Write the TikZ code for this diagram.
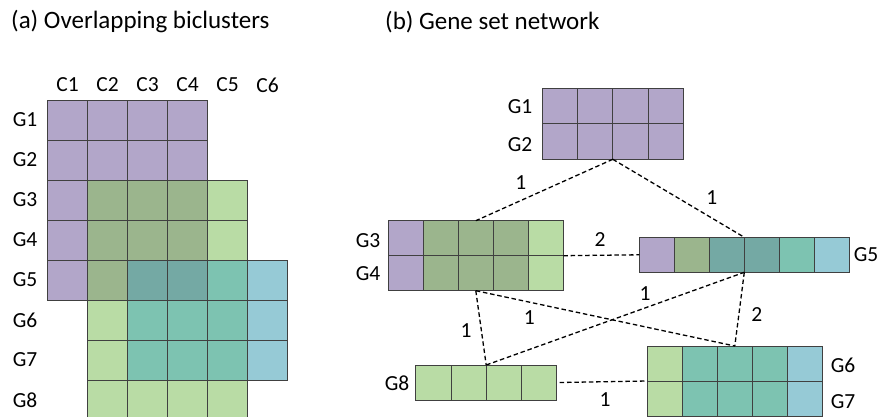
\documentclass[tikz,border=0pt]{standalone}
\usepackage{fontspec}
\setmainfont{Carlito}
\usetikzlibrary{calc}
\definecolor{pu}{HTML}{B2A6C9}
\definecolor{dg}{HTML}{9BB58D}
\definecolor{lg}{HTML}{B9DCA5}
\definecolor{te}{HTML}{7DC3B1}
\definecolor{dt}{HTML}{74A9A4}
\definecolor{bl}{HTML}{96CAD6}
\newcommand\cellsrow[5]{\foreach \cc [count=\ii from 0] in {#5} {\filldraw[cellst, fill=\cc] ({#1+\ii*#3},{#2}) rectangle +({#3},{#4});}}
\tikzset{
  cellst/.style={draw=black!75, line width=0.8pt},
  blk/.style={draw=none, inner sep=0pt, outer sep=0pt},
  lbl/.style={inner sep=0pt, font=\fontsize{21.5}{25}\selectfont},
  ttl/.style={inner sep=0pt, font=\fontsize{25}{30}\selectfont},
  edge/.style={line width=1.3pt, dash pattern=on 4.5pt off 2.8pt},
}
\begin{document}
\begin{tikzpicture}[x=1pt,y=-1pt]
\useasboundingbox (0,0) rectangle (879,417);
% titles
\node[ttl, anchor=west] (ta) at (11,22) {(a) Overlapping biclusters};
\node[ttl, anchor=west] (tb) at (385,22) {(b) Gene set network};
% left grid
\foreach \c [count=\i] in {1,...,6} \node[lbl] (c\c) at ({47.5+40*\i-20},85) {C\c};
\foreach \g [count=\i] in {1,...,8} \node[lbl] (g\g) at (25,{100+40*\i-20}) {G\g};
\cellsrow{47.5}{100}{40}{40}{pu,pu,pu,pu}
\cellsrow{47.5}{140}{40}{40}{pu,pu,pu,pu}
\cellsrow{47.5}{180}{40}{40}{pu,dg,dg,dg,lg}
\cellsrow{47.5}{220}{40}{40}{pu,dg,dg,dg,lg}
\cellsrow{47.5}{260}{40}{40}{pu,dg,dt,dt,te,bl}
\cellsrow{87.5}{300}{40}{40}{lg,te,te,te,bl}
\cellsrow{87.5}{340}{40}{40}{lg,te,te,te,bl}
\cellsrow{87.5}{380}{40}{40}{lg,lg,lg,lg}
% right network blocks
\node[blk, minimum width=141pt, minimum height=71pt] (b12) at (612.8,123.8) {};
\cellsrow{542.3}{88.3}{35.25}{35.5}{pu,pu,pu,pu}
\cellsrow{542.3}{123.8}{35.25}{35.5}{pu,pu,pu,pu}
\node[lbl] (r1) at (520,107) {G1};
\node[lbl] (r2) at (520,145) {G2};

\node[blk, minimum width=175pt, minimum height=70pt] (b34) at (475.8,255.7) {};
\cellsrow{388.3}{220.7}{35}{35}{pu,dg,dg,dg,lg}
\cellsrow{388.3}{255.7}{35}{35}{pu,dg,dg,dg,lg}
\node[lbl] (r3) at (368,241) {G3};
\node[lbl] (r4) at (368,274) {G4};

\node[blk, minimum width=210pt, minimum height=35pt] (b5) at (744.3,254.8) {};
\cellsrow{639.3}{237.3}{35}{35}{pu,dg,dt,dt,te,bl}
\node[lbl] (r5) at (866,255) {G5};

\node[blk, minimum width=141pt, minimum height=35pt] (b8) at (486.2,382.5) {};
\cellsrow{415.7}{365}{35.25}{35}{lg,lg,lg,lg}
\node[lbl] (r8) at (397,383) {G8};

\node[blk, minimum width=175pt, minimum height=70pt] (b67) at (734.8,381) {};
\cellsrow{647.3}{346}{35}{35}{lg,te,te,te,bl}
\cellsrow{647.3}{381}{35}{35}{lg,te,te,te,bl}
\node[lbl] (r6) at (843,365) {G6};
\node[lbl] (r7) at (843,402) {G7};

% edges
\draw[edge] (b12.south) -- (b34.north);
\draw[edge] (b12.south) -- (b5.north);
\draw[edge] (b34.east) -- (b5.west);
\draw[edge] (b34.south) -- (b8.north);
\draw[edge] (b34.south) -- (b67.north);
\draw[edge] (b8.north) -- (b5.south);
\draw[edge] (b5.south) -- (b67.north);
\draw[edge] ([xshift=3pt]b8.east) -- (b67.west);
% edge labels
\node[lbl] (e1) at (520.7,183) {1};
\node[lbl] (e2) at (711.7,198) {1};
\node[lbl] (e3) at (600,240) {2};
\node[lbl] (e4) at (466,331) {1};
\node[lbl] (e5) at (529.3,318) {1};
\node[lbl] (e6) at (645,294) {1};
\node[lbl] (e7) at (756.7,315) {2};
\node[lbl] (e8) at (605,400) {1};
\end{tikzpicture}
\end{document}
